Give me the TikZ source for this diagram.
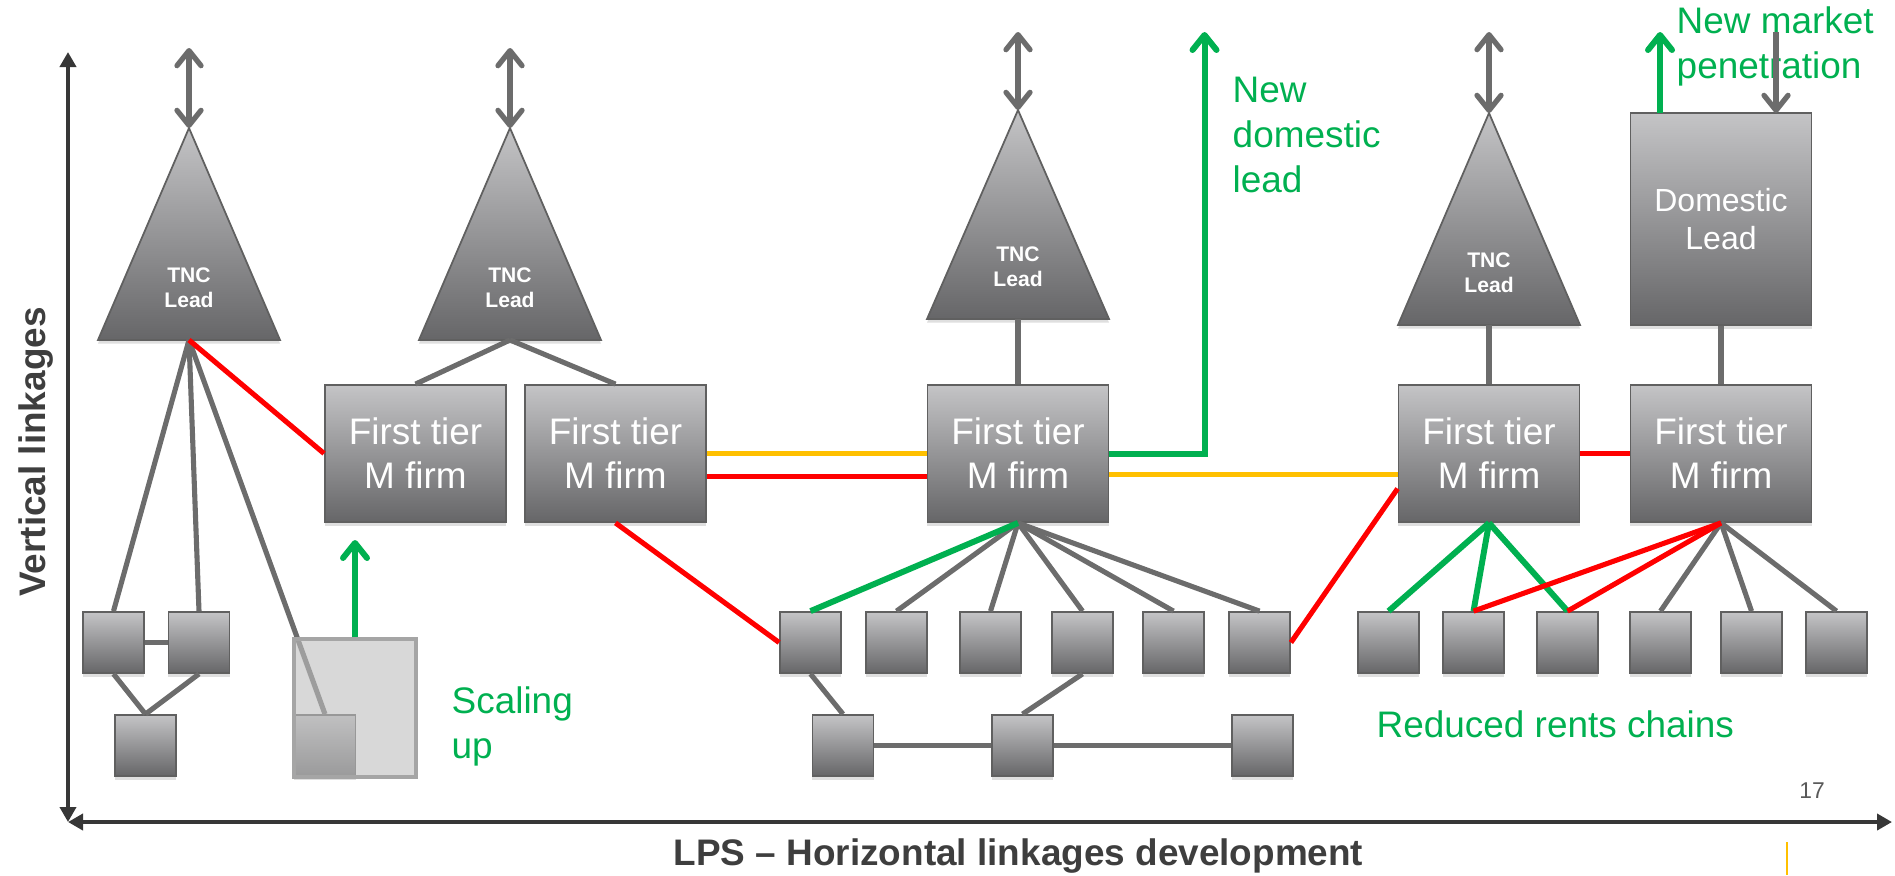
\documentclass[tikz,border=0pt]{standalone}
\usepackage{fontspec}
\setmainfont{Liberation Sans}
\usetikzlibrary{arrows.meta,shadows}
\definecolor{cgreen}{RGB}{0,176,80}
\definecolor{cred}{RGB}{255,0,0}
\definecolor{corange}{RGB}{255,192,0}
\definecolor{cgray}{RGB}{108,108,108}
\definecolor{axgray}{RGB}{55,55,55}
\definecolor{btop}{RGB}{196,196,198}
\definecolor{bbot}{RGB}{102,102,104}
\definecolor{bedge}{RGB}{96,96,96}
\definecolor{txtgray}{RGB}{62,62,62}
\definecolor{ghostfill}{RGB}{190,190,190}
\definecolor{ghostedge}{RGB}{165,165,165}
\definecolor{numgray}{RGB}{89,89,89}
\newcommand\tncshape[4]{%
  \draw[tri] (#2,#3) -- (#2-91,#4) -- (#2+91,#4) -- cycle;
  \coordinate (#1top) at (#2,#3);
  \coordinate (#1bot) at (#2,#4);
  \node[tnctext] (#1txt) at (#2,#4-52) {TNC\\Lead};}
\begin{document}
\begin{tikzpicture}[x=0.01cm,y=-0.01cm,
  shad/.style={drop shadow={opacity=0.25,shadow xshift=0pt,shadow yshift=-1pt}},
  firm/.style={rectangle, draw=bedge, line width=0.5pt, top color=btop, bottom color=bbot,
    minimum width=1.81cm, minimum height=1.37cm, inner sep=0pt, align=center, text=white,
    font=\fontsize{10.5}{12.5}\selectfont, shad},
  sq/.style={rectangle, draw=bedge, line width=0.5pt, top color=btop, bottom color=bbot,
    minimum width=0.61cm, minimum height=0.61cm, inner sep=0pt, shad},
  tri/.style={draw=bedge, line width=0.5pt, top color=btop, bottom color=bbot, shad},
  tnctext/.style={align=center, text=white, font=\bfseries\fontsize{6}{7.1}\selectfont, inner sep=0pt},
  ghost/.style={rectangle, draw=ghostedge, line width=0.9pt, fill=ghostfill, fill opacity=0.6,
    minimum width=1.22cm, minimum height=1.38cm, inner sep=0pt},
  link/.style={draw=cgray, line width=1.45pt},
  rlink/.style={draw=cred, line width=1.45pt},
  olink/.style={draw=corange, line width=1.45pt},
  glink/.style={draw=cgreen, line width=1.7pt},
  dblarr/.style={draw=cgray, line width=1.5pt,
    {Straight Barb[length=1.5mm,width=2.4mm,round]}-{Straight Barb[length=1.5mm,width=2.4mm,round]}},
  grayarr/.style={draw=cgray, line width=1.5pt, -{Straight Barb[length=1.5mm,width=2.4mm,round]}},
  greenarr/.style={draw=cgreen, line width=1.7pt, -{Straight Barb[length=1.5mm,width=2.4mm,round]}},
  axis/.style={draw=axgray, line width=1.3pt,
    {Triangle[length=1.5mm,width=1.6mm]}-{Triangle[length=1.5mm,width=1.6mm]}},
  gtext/.style={text=cgreen, font=\fontsize{10.5}{12.7}\selectfont, inner sep=0pt, align=left},
  ltext/.style={text=txtgray, font=\bfseries\fontsize{10.5}{12.6}\selectfont, inner sep=0pt}
]
\useasboundingbox (0,0) rectangle (1895,875);

% axes
\coordinate (O) at (68,822);
\coordinate (Ytop) at (68,52);
\coordinate (Xend) at (1892,822);
\draw[axis] (O) -- (Ytop);
\draw[axis] (O) -- (Xend);
\node[ltext, rotate=90, anchor=base] (vl) at (45,452) {Vertical linkages};
\node[ltext, anchor=base] (hl) at (1018.5,865) {LPS -- Horizontal linkages development};
\node[text=numgray, font=\fontsize{6.5}{7.5}\selectfont, inner sep=0pt, anchor=base] (pg) at (1812,798) {17};
\coordinate (or1) at (1787,842);
\coordinate (or2) at (1787,875);
\draw[corange, line width=0.5pt] (or1) -- (or2);

% triangles
\tncshape{T1}{189}{128}{340}
\tncshape{T2}{510}{128}{340}
\tncshape{T3}{1018}{110}{319}
\tncshape{T4}{1489}{113}{325}
\coordinate (T1arr) at (189,48);
\coordinate (T2arr) at (510,48);
\coordinate (T3arr) at (1018,32);
\coordinate (T4arr) at (1489,32);
\draw[dblarr] (T1arr) -- (T1top);
\draw[dblarr] (T2arr) -- (T2top);
\draw[dblarr] (T3arr) -- (T3top);
\draw[dblarr] (T4arr) -- (T4top);

% first tier boxes
\node[firm] (B1) at (415.5,453.5) {First tier\\M firm};
\node[firm] (B2) at (615.5,453.5) {First tier\\M firm};
\node[firm] (B3) at (1018,453.5) {First tier\\M firm};
\node[firm] (B4) at (1489,453.5) {First tier\\M firm};
\node[firm] (B5) at (1721,453.5) {First tier\\M firm};
\node[firm, minimum height=2.12cm, font=\fontsize{9.1}{10.8}\selectfont] (Dom) at (1721,219) {Domestic\\Lead};

% small boxes
\foreach \n/\x/\y in {a1/113.5/642.5, a2/199/642.5, a3/145.5/745.5, g/325/745.5,
  s1/810.5/642.5, s2/896.5/642.5, s3/990.5/642.5, s4/1082.5/642.5, s5/1173.5/642.5, s6/1259.5/642.5,
  r1/843/745.5, r2/1022.5/745.5, r3/1262.5/745.5,
  t1/1388.5/642.5, t2/1473.5/642.5, t3/1567.5/642.5, t4/1660.5/642.5, t5/1751.5/642.5, t6/1836.5/642.5}
  {\node[sq] (\n) at (\x,\y) {};}

% left cluster
\draw[link] (T1bot) -- (a1.north);
\draw[link] (T1bot) -- (a2.north);
\draw[link] (T1bot) -- (g.north);
\draw[link] (a1.east) -- (a2.west);
\draw[link] (a1.south) -- (a3.north);
\draw[link] (a2.south) -- (a3.north);
\draw[rlink] (T1bot) -- (B1.west);
\node[ghost] (ghost) at (355,708) {};
\coordinate (scaleTip) at (355,540);
\draw[greenarr] (ghost.north) -- (scaleTip);
\node[gtext, anchor=base west] (su) at (451,758) {Scaling\\up};

% T2
\draw[link] (T2bot) -- (B1.north);
\draw[link] (T2bot) -- (B2.north);

% middle
\draw[link] (T3bot) -- (B3.north);
\draw[olink] (B2.east) -- (B3.west);
\draw[rlink] (B2.-14) -- (B3.194);
\draw[rlink] (B2.south) -- (s1.west);
\foreach \n in {s2,s3,s4,s5,s6} {\draw[link] (B3.south) -- (\n.north);}
\draw[glink] (B3.south) -- (s1.north);
\draw[link] (s1.south) -- (r1.north);
\draw[link] (s4.south) -- (r2.north);
\draw[link] (r1.east) -- (r2.west);
\draw[link] (r2.east) -- (r3.west);
\coordinate (ndTip) at (1204.5,32);
\draw[greenarr] (B3.east) -| (ndTip);
\node[gtext, anchor=base west] (ndl) at (1232,192) {New\\domestic\\lead};
\draw[olink] (B3.-13) -- (B4.193);

% right
\draw[link] (T4bot) -- (B4.north);
\draw[rlink] (s6.east) -- (B4.201);
\draw[rlink] (B4.east) -- (B5.west);
\draw[link] (Dom.south) -- (B5.north);
\foreach \n in {t1,t2,t3} {\draw[glink] (B4.south) -- (\n.north);}
\foreach \n in {t4,t5,t6} {\draw[link] (B5.south) -- (\n.north);}
\foreach \n in {t2,t3} {\draw[rlink] (B5.south) -- (\n.north);}
\node[gtext, anchor=base west] (rrc) at (1376,737) {Reduced rents chains};

% domestic lead arrows
\node[gtext, anchor=base west] (nmp) at (1676,78) {New market\\penetration};
\coordinate (dg1) at (1660,113);
\coordinate (dg2) at (1660,32);
\draw[greenarr] (dg1) -- (dg2);
\coordinate (dd1) at (1776,32);
\coordinate (dd2) at (1776,113);
\draw[grayarr] (dd1) -- (dd2);
\end{tikzpicture}
\end{document}
